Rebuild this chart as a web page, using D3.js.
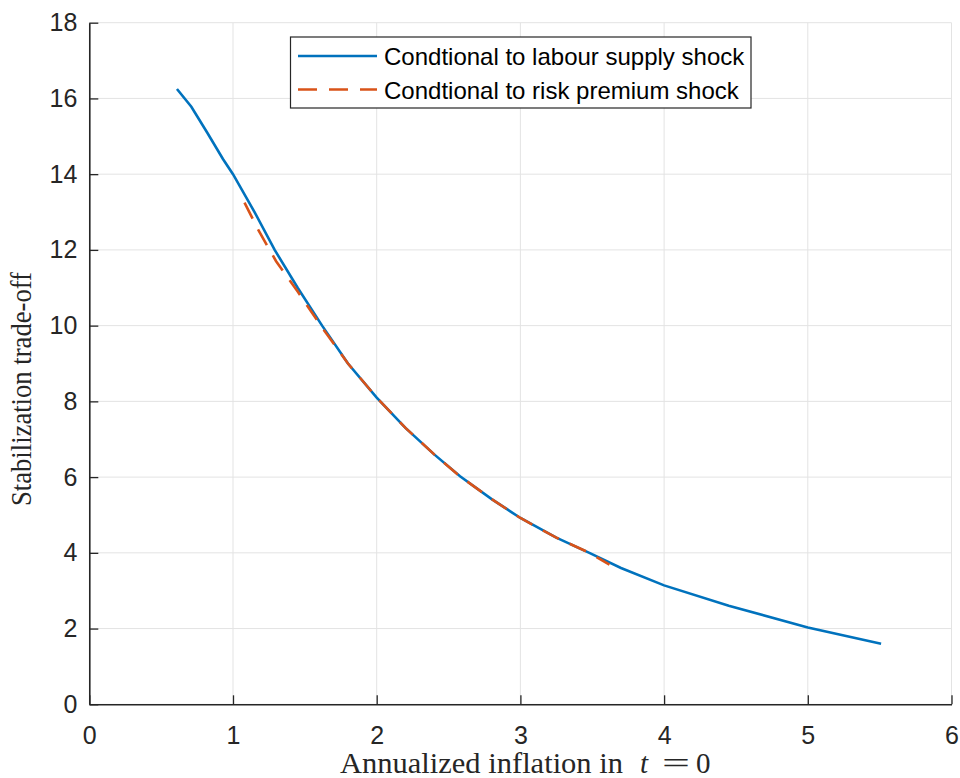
<!DOCTYPE html>
<html>
<head>
<meta charset="utf-8">
<script src="https://cdn.jsdelivr.net/npm/d3@7"></script>
<style>
  html, body { margin: 0; padding: 0; background: #fff; }
  svg { display: block; }
</style>
</head>
<body>
<svg id="chart" width="960" height="778"></svg>
<script>
// ---- data ----
const xTicks = [0, 1, 2, 3, 4, 5, 6];
const yTicks = [0, 2, 4, 6, 8, 10, 12, 14, 16, 18];

const labourX = [0.61, 0.71, 0.82, 0.93, 1.00, 1.15, 1.29, 1.45, 1.62, 1.80, 2.00, 2.20, 2.40, 2.58, 2.80, 3.00, 3.25, 3.48, 3.70, 4.00, 4.45, 5.00, 5.51];
const labourY = [16.25, 15.78, 15.10, 14.40, 14.00, 13.00, 12.00, 11.00, 10.00, 9.00, 8.10, 7.30, 6.60, 6.02, 5.42, 4.92, 4.40, 4.00, 3.60, 3.14, 2.60, 2.03, 1.60];

const riskX = [1.08, 1.18, 1.30, 1.45, 1.62, 1.80, 2.00, 2.20, 2.40, 2.58, 2.80, 3.00, 3.25, 3.48, 3.62];
const riskY = [13.25, 12.50, 11.70, 10.90, 9.95, 9.00, 8.10, 7.30, 6.60, 6.02, 5.42, 4.92, 4.40, 4.00, 3.69];

const seriesNames = ["Condtional to labour supply shock", "Condtional to risk premium shock"];
const xLabel = "Annualized inflation in";
const yLabel = "Stabilization trade-off";

// ---- layout ----
const svg = d3.select("#chart");
const mLeft = 89.3, mRight = 951.5, mTop = 22.7, mBottom = 704.3;
const x = d3.scaleLinear().domain([0, 6]).range([mLeft, mRight]);
const y = d3.scaleLinear().domain([0, 18]).range([mBottom, mTop]);

const axisColor = "#262626";
const gridColor = "#e3e3e3";
const serif = "Liberation Serif, Times New Roman, serif";
const sans = "Liberation Sans, Arial, sans-serif";

// grid
svg.append("g").selectAll("line").data(xTicks).join("line")
  .attr("x1", d => x(d)).attr("x2", d => x(d))
  .attr("y1", mTop).attr("y2", mBottom)
  .attr("stroke", gridColor).attr("stroke-width", 1);
svg.append("g").selectAll("line").data(yTicks).join("line")
  .attr("x1", mLeft).attr("x2", mRight)
  .attr("y1", d => y(d)).attr("y2", d => y(d))
  .attr("stroke", gridColor).attr("stroke-width", 1);

// axes
const xAxis = d3.axisBottom(x).tickValues(xTicks).tickFormat(d3.format("d"))
  .tickSizeInner(-9).tickSizeOuter(0).tickPadding(22);
const yAxis = d3.axisLeft(y).tickValues(yTicks).tickFormat(d3.format("d"))
  .tickSizeInner(-9).tickSizeOuter(0).tickPadding(12);

const gx = svg.append("g").attr("transform", `translate(0,${mBottom})`).call(xAxis);
const gy = svg.append("g").attr("transform", `translate(${mLeft},0)`).call(yAxis);
[gx, gy].forEach(g => {
  g.select(".domain").attr("stroke", axisColor).attr("stroke-width", 1.6);
  g.selectAll(".tick line").attr("stroke", axisColor).attr("stroke-width", 1.3);
  g.selectAll(".tick text").attr("fill", axisColor)
    .style("font-family", sans).style("font-size", "25px");
});

// lines
const line = d3.line().x(d => x(d[0])).y(d => y(d[1]));
const labour = labourX.map((v, i) => [v, labourY[i]]);
const risk = riskX.map((v, i) => [v, riskY[i]]);

svg.append("path").datum(labour).attr("d", line)
  .attr("fill", "none").attr("stroke", "#0072BD").attr("stroke-width", 2.6);
svg.append("path").datum(risk).attr("d", line)
  .attr("fill", "none").attr("stroke", "#D95319").attr("stroke-width", 2.6)
  .attr("stroke-dasharray", "18,12");

// x axis label (text + math part)
const xlg = svg.append("g").attr("fill", axisColor)
  .style("font-family", serif).style("font-size", "29px");
xlg.append("text").attr("x", 340).attr("y", 773)
  .attr("textLength", 283).attr("lengthAdjust", "spacingAndGlyphs").text(xLabel);
xlg.append("text").attr("x", 640).attr("y", 773).style("font-style", "italic").text("t");
xlg.append("text").attr("x", 662).attr("y", 773)
  .attr("textLength", 28).attr("lengthAdjust", "spacingAndGlyphs").text("=");
xlg.append("text").attr("x", 696).attr("y", 773).text("0");

// y axis label
svg.append("text")
  .attr("transform", `translate(31,389) rotate(-90)`)
  .attr("text-anchor", "middle")
  .attr("textLength", 234).attr("lengthAdjust", "spacingAndGlyphs")
  .style("font-family", serif).style("font-size", "29px")
  .attr("fill", axisColor)
  .text(yLabel);

// legend
const lg = svg.append("g");
lg.append("rect").attr("x", 290.5).attr("y", 37).attr("width", 460.5).attr("height", 71)
  .attr("fill", "#fff").attr("stroke", axisColor).attr("stroke-width", 1.2);
const rows = [
  { name: seriesNames[0], color: "#0072BD", dash: null, cy: 56 },
  { name: seriesNames[1], color: "#D95319", dash: "19,12", cy: 89.5 }
];
rows.forEach(r => {
  lg.append("line").attr("x1", 298).attr("x2", 377).attr("y1", r.cy).attr("y2", r.cy)
    .attr("stroke", r.color).attr("stroke-width", 2.6)
    .attr("stroke-dasharray", r.dash);
  lg.append("text").attr("x", 384).attr("y", r.cy + 9)
    .style("font-family", sans).style("font-size", "24px")
    .attr("fill", "#000").text(r.name);
});
</script>
</body>
</html>
